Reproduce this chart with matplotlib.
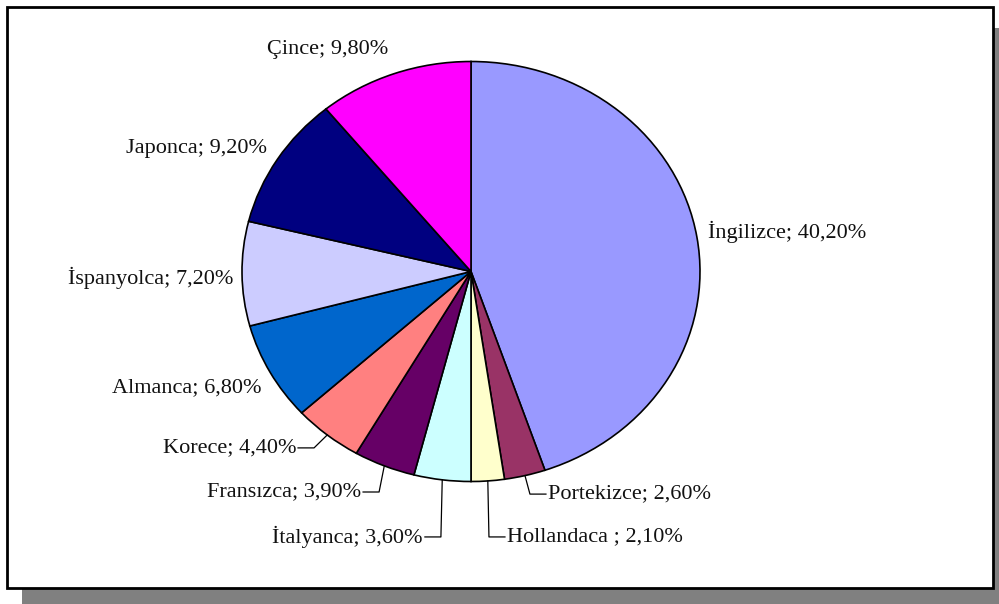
import matplotlib.pyplot as plt
from matplotlib.patches import Rectangle
import numpy as np

languages = ['İngilizce', 'Portekizce', 'Hollandaca ', 'İtalyanca', 'Fransızca',
             'Korece', 'Almanca', 'İspanyolca', 'Japonca', 'Çince']
shares = [40.2, 2.6, 2.1, 3.6, 3.9, 4.4, 6.8, 7.2, 9.2, 9.8]
colors = ['#9999FF', '#993366', '#FFFFCC', '#CCFFFF', '#660066',
          '#FF8080', '#0066CC', '#CCCCFF', '#000080', '#FF00FF']

# label anchor positions (pie data units) and alignment, leader line flag
label_pos = [(1.035, 0.188, 'left', False),
             (0.336, -1.06, 'left', True),
             (0.157, -1.264, 'left', True),
             (-0.21, -1.264, 'right', True),
             (-0.48, -1.05, 'right', True),
             (-0.764, -0.84, 'right', True),
             (-0.917, -0.555, 'right', False),
             (-1.039, -0.031, 'right', False),
             (-0.891, 0.588, 'right', False),
             (-0.36, 1.055, 'right', False)]

W, H = 999, 604
fig = plt.figure(figsize=(W / 100, H / 100), dpi=100)

# shadow + frame
fig.patches.append(Rectangle((22 / W, 0), 1 - 22 / W, (H - 28) / H,
                             transform=fig.transFigure, facecolor='#808080',
                             edgecolor='none', zorder=-2))
fig.patches.append(Rectangle((6.5 / W, (H - 588) / H), (993 - 6.5) / W, (588 - 6.5) / H,
                             transform=fig.transFigure, facecolor='white',
                             edgecolor='black', linewidth=2, zorder=-1))

cx, cy, rx, ry = 471, 271.5, 229, 210
ax = fig.add_axes([(cx - rx) / W, (H - cy - ry) / H, 2 * rx / W, 2 * ry / H])
ax.set_zorder(2)
ax.patch.set_alpha(0)

wedges, _ = ax.pie(shares, colors=colors, startangle=90, counterclock=False,
                   wedgeprops=dict(edgecolor='black', linewidth=1.2))
ax.set_aspect('auto')
ax.set_xlim(-1, 1)
ax.set_ylim(-1, 1)
ax.axis('off')

gap = 16 / rx
for w, name, val, (tx, ty, ha, leader) in zip(wedges, languages, shares, label_pos):
    txt = f'{name}; {val:.2f}%'.replace('.', ',')
    ax.text(tx, ty, txt, ha=ha, va='center', fontsize=16, color='#111111',
            family=['Liberation Serif', 'DejaVu Serif'], clip_on=False)
    if leader:
        mid = np.deg2rad((w.theta1 + w.theta2) / 2)
        ex, ey = np.cos(mid), np.sin(mid)
        sign = -1 if ha == 'left' else 1
        end_x = tx + sign * 2 / rx
        elbow_x = end_x + sign * gap
        ax.plot([ex, elbow_x, end_x], [ey, ty, ty], color='black',
                linewidth=0.9, clip_on=False)

fig.savefig('out.png', dpi=100)
